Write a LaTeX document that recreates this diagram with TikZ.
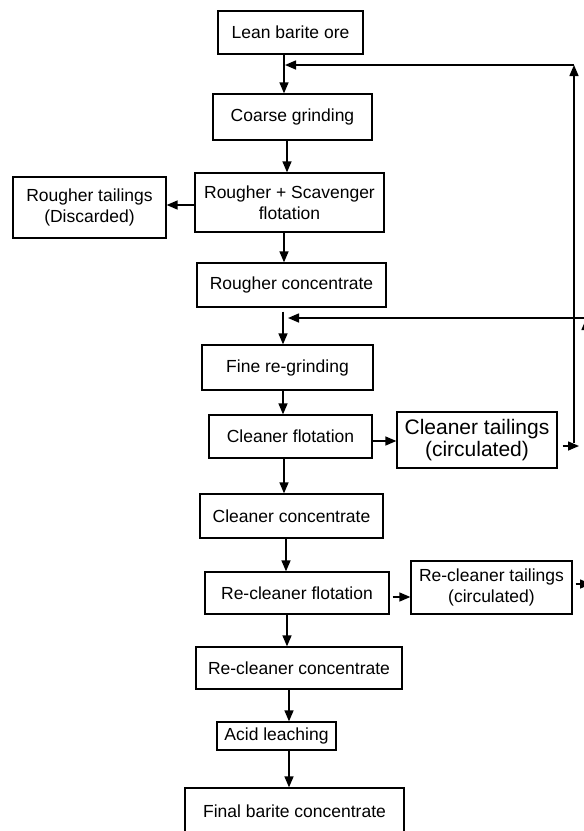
\documentclass[tikz,border=0pt]{standalone}
\usepackage{fontspec}
\setmainfont{Liberation Sans}
\usetikzlibrary{arrows.meta}
\begin{document}
\begin{tikzpicture}[x=1pt,y=-1pt,
  box/.style={draw, line width=1.3pt, inner sep=0pt, align=center, font=\fontsize{17.5}{21}\selectfont},
  bigbox/.style={box, font=\fontsize{21}{22}\selectfont},
  arr/.style={line width=1.5pt, -{Triangle[length=11pt,width=9pt]}},
  ln/.style={line width=1.5pt}]
\useasboundingbox (0,0) rectangle (584,831);
\clip (0,0) rectangle (584,831);
% boxes
\node[box, minimum width=145pt, minimum height=43pt] (ore) at (290.5,32.5) {Lean barite ore};
\node[box, minimum width=159pt, minimum height=46pt] (coarse) at (292.5,117) {Coarse grinding};
\node[box, minimum width=189pt, minimum height=59pt] (rs) at (289.5,202.5) {Rougher + Scavenger\\flotation};
\node[box, minimum width=153pt, minimum height=61pt] (rtail) at (89.5,207.5) {Rougher tailings\\(Discarded)};
\node[box, minimum width=189pt, minimum height=44pt] (rc) at (291.5,285) {Rougher concentrate};
\node[box, minimum width=171pt, minimum height=45pt] (fine) at (287.5,367.5) {Fine re-grinding};
\node[box, minimum width=163pt, minimum height=43pt] (cf) at (290.5,436.5) {Cleaner flotation};
\node[bigbox, minimum width=160pt, minimum height=56pt] (ct) at (477,440) {Cleaner tailings\\(circulated)};
\node[box, minimum width=183pt, minimum height=44pt] (cc) at (291.5,516) {Cleaner concentrate};
\node[box, minimum width=184pt, minimum height=42pt] (rf) at (297,593) {Re-cleaner flotation};
\node[box, minimum width=161pt, minimum height=53pt] (rt) at (491.5,587.5) {Re-cleaner tailings\\(circulated)};
\node[box, minimum width=206pt, minimum height=42pt] (rcc) at (299,668) {Re-cleaner concentrate};
\node[box, minimum width=119pt, minimum height=28pt] (acid) at (276.5,736) {Acid leaching};
\node[box, minimum width=219pt, minimum height=47pt] (final) at (294.5,811.5) {Final barite concentrate};
% helper coordinates
\coordinate (x283) at (283,0);
\coordinate (x284) at (284,0);
\coordinate (x286) at (286,0);
\coordinate (x287) at (287,0);
\coordinate (x289) at (289,0);
\coordinate (y205) at (0,205);
\coordinate (y441) at (0,441);
\coordinate (y597) at (0,597);
% main chain
\draw[arr] (ore.south -| x284) -- (coarse.north -| x284);
\draw[arr] (coarse.south -| x287) -- (rs.north -| x287);
\draw[arr] (rs.west |- y205) -- (rtail.east |- y205);
\draw[arr] (rs.south -| x284) -- (rc.north -| x284);
\draw[arr, shorten <=4pt] (rc.south -| x283) -- (fine.north -| x283);
\draw[arr] (fine.south -| x283) -- (cf.north -| x283);
\draw[arr] (cf.east |- y441) -- (ct.west |- y441);
\draw[arr] (cf.south -| x284) -- (cc.north -| x284);
\draw[arr] (cc.south -| x286) -- (rf.north -| x286);
\draw[arr, shorten <=3pt] (rf.east |- y597) -- (rt.west |- y597);
\draw[arr] (rf.south -| x287) -- (rcc.north -| x287);
\draw[arr] (rcc.south -| x289) -- (acid.north -| x289);
\draw[arr] (acid.south -| x289) -- (final.north -| x289);
% cleaner tailings return loop
\coordinate (ctout) at (579,446);
\coordinate (r1bot) at (574,443);
\coordinate (r1top) at (574,65);
\coordinate (tip1) at (285,65);
\draw[arr, shorten <=5pt] (ct.east |- ctout) -- (ctout);
\draw[arr] (r1bot) -- (r1top);
\draw[arr] (r1top) -- (tip1);
% re-cleaner tailings return loop
\coordinate (rtout) at (591,584);
\coordinate (r2bot) at (586,590);
\coordinate (r2top) at (586,319);
\coordinate (r2h) at (586,318);
\coordinate (tip2) at (288,318);
\draw[arr, shorten <=3pt] (rt.east |- rtout) -- (rtout);
\draw[arr] (r2bot) -- (r2top);
\draw[arr] (r2h) -- (tip2);
\end{tikzpicture}
\end{document}
